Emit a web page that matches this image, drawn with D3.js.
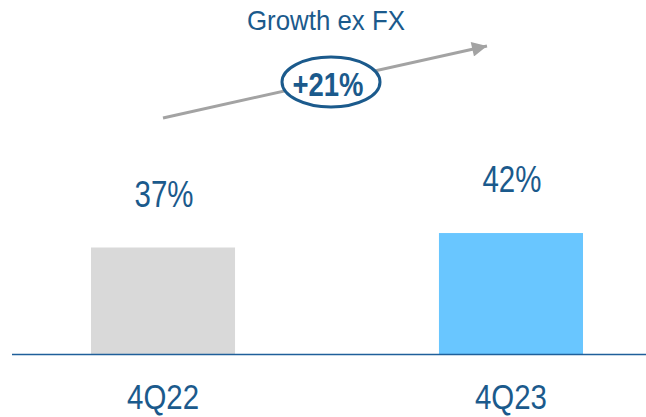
<!DOCTYPE html>
<html>
<head>
<meta charset="utf-8">
<script src="https://cdn.jsdelivr.net/npm/d3@7/dist/d3.min.js"></script>
<style>
  html, body { margin: 0; padding: 0; background: #fff; }
  svg { display: block; }
  text { font-family: "Liberation Sans", Arial, sans-serif; }
</style>
</head>
<body>
<svg id="chart" width="646" height="417"></svg>
<script>
// Quarterly share, 4Q22 vs 4Q23
const categories = ["4Q22", "4Q23"];
const values = [37, 42];
const valueLabels = ["37%", "42%"];
const barColors = ["#d9d9d9", "#69c6ff"];
const growthTitle = "Growth ex FX";
const growthLabel = "+21%";

const W = 646, H = 417;
const navy = "#1b5a8c";
const svg = d3.select("#chart");

// condensed lettering: squeeze glyphs horizontally to a given width
function condensed(sel, width) {
  sel.attr("textLength", width).attr("lengthAdjust", "spacingAndGlyphs");
}

const x = d3.scaleBand()
  .domain(categories)
  .range([21.4, 652.6])
  .paddingInner(0.586)
  .paddingOuter(0.2);

const baseY = 354.5;
const y = d3.scaleLinear().domain([0, 50]).range([baseY, baseY - 50 * 107 / 37]);

// bars
svg.selectAll("rect.bar")
  .data(categories)
  .join("rect")
  .attr("class", "bar")
  .attr("x", d => x(d))
  .attr("width", x.bandwidth())
  .attr("y", (d, i) => y(values[i]))
  .attr("height", (d, i) => y(0) - y(values[i]))
  .attr("fill", (d, i) => barColors[i]);

// baseline
svg.append("line")
  .attr("x1", 12).attr("x2", W)
  .attr("y1", baseY).attr("y2", baseY)
  .attr("stroke", "#1f5f9a").attr("stroke-width", 1.5);

// value labels
svg.selectAll("text.val")
  .data(categories)
  .join("text")
  .attr("class", "val")
  .attr("x", d => x(d) + x.bandwidth() / 2 + 1)
  .attr("y", (d, i) => y(values[i]) - 41)
  .attr("text-anchor", "middle")
  .attr("font-size", 37)
  .attr("fill", navy)
  .text((d, i) => valueLabels[i])
  .call(condensed, 59);

// category axis labels
const xAxis = d3.axisBottom(x).tickSize(0).tickPadding(0);
const gx = svg.append("g").attr("transform", `translate(0,${baseY})`).call(xAxis);
gx.select(".domain").remove();
gx.selectAll("text")
  .attr("dy", null)
  .attr("y", 54)
  .attr("font-size", 35)
  .attr("font-family", null)
  .attr("fill", navy)
  .call(condensed, 72);

// growth arrow
const defs = svg.append("defs");
defs.append("marker")
  .attr("id", "head")
  .attr("viewBox", "0 0 10 10")
  .attr("refX", 10).attr("refY", 5)
  .attr("markerWidth", 6.5).attr("markerHeight", 5)
  .attr("markerUnits", "strokeWidth")
  .attr("orient", "auto")
  .append("path")
  .attr("d", "M0,0L10,5L0,10Z")
  .attr("fill", "#a3a3a3");

svg.append("line")
  .attr("x1", 163).attr("y1", 118)
  .attr("x2", 487).attr("y2", 46)
  .attr("stroke", "#a3a3a3")
  .attr("stroke-width", 3)
  .attr("marker-end", "url(#head)");

svg.append("text")
  .attr("x", 326).attr("y", 29.5)
  .attr("text-anchor", "middle")
  .attr("font-size", 28.5)
  .attr("fill", navy)
  .text(growthTitle)
  .call(condensed, 158);

svg.append("ellipse")
  .attr("cx", 331).attr("cy", 82)
  .attr("rx", 49).attr("ry", 25)
  .attr("fill", "#fff")
  .attr("stroke", navy)
  .attr("stroke-width", 3);

svg.append("text")
  .attr("x", 328).attr("y", 95.5)
  .attr("text-anchor", "middle")
  .attr("font-size", 33)
  .attr("font-weight", "bold")
  .attr("fill", navy)
  .text(growthLabel)
  .call(condensed, 71);
</script>
</body>
</html>
